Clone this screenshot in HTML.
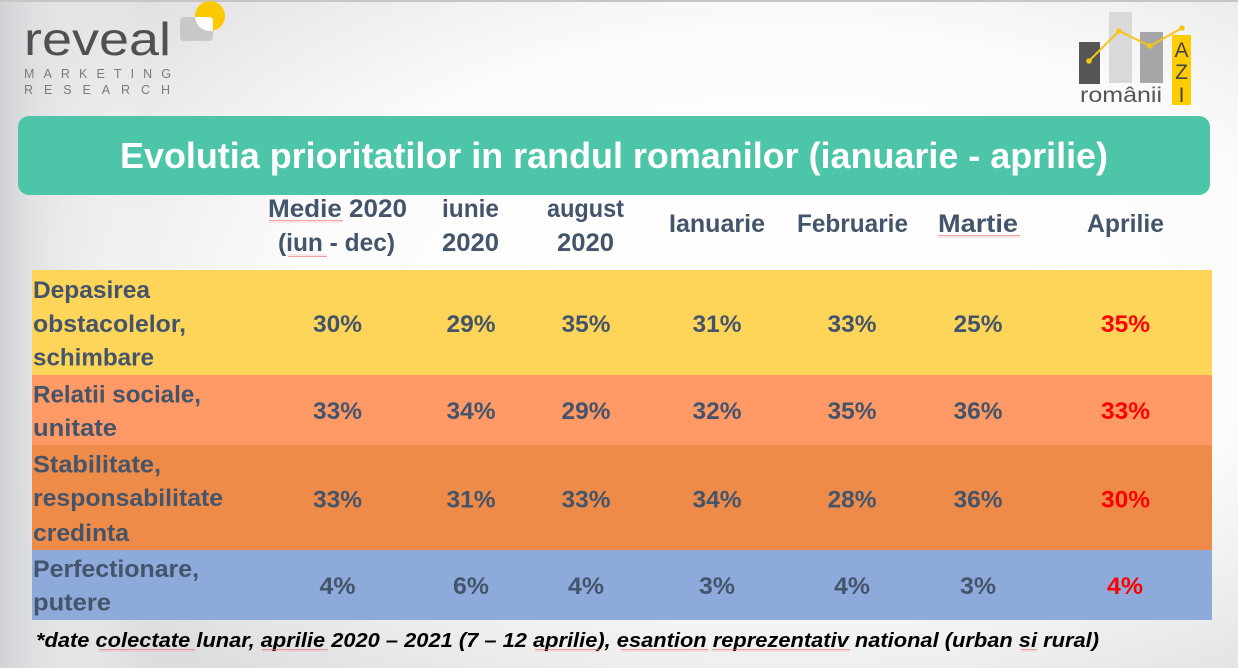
<!DOCTYPE html>
<html><head><meta charset="utf-8"><style>
html,body{margin:0;padding:0;width:1238px;height:668px;overflow:hidden;background:#fff}
svg{display:block}
</style></head><body>
<svg width="1238" height="668" viewBox="0 0 1238 668" xmlns="http://www.w3.org/2000/svg">
<defs>
<radialGradient id="bg" cx="0.64" cy="0.45" r="0.72">
<stop offset="0" stop-color="#ffffff"/>
<stop offset="0.55" stop-color="#fcfcfc"/>
<stop offset="0.8" stop-color="#ececed"/>
<stop offset="1" stop-color="#dcdddf"/>
</radialGradient>
<linearGradient id="lg" x1="0" y1="0" x2="1" y2="0">
<stop offset="0" stop-color="#cfd1d4" stop-opacity="1"/>
<stop offset="0.04" stop-color="#e6e7e9" stop-opacity="0.6"/>
<stop offset="0.12" stop-color="#ffffff" stop-opacity="0"/>
</linearGradient>
<pattern id="wave" width="4" height="3" patternUnits="userSpaceOnUse">
<path d="M0 2.2 L1 0.8 L2 2.2 L3 0.8 L4 2.2" fill="none" stroke="#e86a6a" stroke-width="0.55"/>
</pattern>
<clipPath id="rclip"><rect x="180" y="17" width="33" height="24" rx="4"/></clipPath>
</defs>
<rect width="1238" height="668" fill="url(#bg)"/>
<rect width="1238" height="668" fill="url(#lg)"/>
<rect x="0" y="0" width="1238" height="2" fill="#c6c6c6"/>

<!-- reveal logo -->
<text x="24" y="55" font-family="Liberation Sans, sans-serif" font-size="46" fill="#505050" textLength="147" lengthAdjust="spacingAndGlyphs">reveal</text>
<text x="24" y="78" font-family="Liberation Sans, sans-serif" font-size="12.5" fill="#7a7a7a" textLength="147" lengthAdjust="spacing">MARKETING</text>
<text x="24" y="94" font-family="Liberation Sans, sans-serif" font-size="12.5" fill="#7a7a7a" textLength="146" lengthAdjust="spacing">RESEARCH</text>
<rect x="180" y="17" width="33" height="24" rx="4" fill="#c8c8c8"/>
<circle cx="210" cy="16" r="15" fill="#fcc900"/>
<circle cx="210" cy="16" r="15" fill="#ffffff" clip-path="url(#rclip)"/>

<!-- romanii AZI logo -->
<rect x="1079" y="42" width="21" height="42" fill="#555555"/>
<rect x="1109" y="12" width="23" height="71" fill="#d9d9d9"/>
<rect x="1140" y="32" width="23" height="51" fill="#a6a6a6"/>
<rect x="1172" y="35" width="19" height="70" fill="#ffcc00"/>
<polyline points="1089,61 1119,31 1150,46 1182,28" fill="none" stroke="#f7c51a" stroke-width="2"/>
<circle cx="1089" cy="61" r="2.8" fill="#f7c51a"/>
<circle cx="1119" cy="31" r="2.8" fill="#f7c51a"/>
<circle cx="1150" cy="46" r="2.8" fill="#f7c51a"/>
<circle cx="1182" cy="28" r="2.8" fill="#f7c51a"/>
<text x="1181.5" y="57" font-family="Liberation Sans, sans-serif" font-size="21" fill="#444" text-anchor="middle">A</text>
<text x="1181.5" y="79" font-family="Liberation Sans, sans-serif" font-size="21" fill="#444" text-anchor="middle">Z</text>
<text x="1181.5" y="102" font-family="Liberation Sans, sans-serif" font-size="21" fill="#444" text-anchor="middle">I</text>
<text x="1080" y="102" font-family="Liberation Sans, sans-serif" font-size="21" fill="#555" textLength="82" lengthAdjust="spacingAndGlyphs">românii</text>

<!-- title bar -->
<rect x="18" y="116" width="1192" height="79" rx="11" fill="#4dc5a8"/>
<text x="120" y="168" font-family="Liberation Sans, sans-serif" font-weight="bold" font-size="36" fill="#ffffff" textLength="988" lengthAdjust="spacingAndGlyphs">Evolutia prioritatilor in randul romanilor (ianuarie - aprilie)</text>

<!-- header -->
<g font-family="Liberation Sans, sans-serif" font-weight="bold" font-size="25" fill="#44546a" text-anchor="middle">
<text x="337.5" y="217" textLength="139" lengthAdjust="spacingAndGlyphs">Medie 2020</text>
<text x="336.5" y="251" textLength="117" lengthAdjust="spacingAndGlyphs">(iun - dec)</text>
<text x="470.5" y="217" textLength="57" lengthAdjust="spacingAndGlyphs">iunie</text>
<text x="470.5" y="251" textLength="57" lengthAdjust="spacingAndGlyphs">2020</text>
<text x="585.5" y="217" textLength="77" lengthAdjust="spacingAndGlyphs">august</text>
<text x="585.5" y="251" textLength="57" lengthAdjust="spacingAndGlyphs">2020</text>
<text x="717" y="232" textLength="96" lengthAdjust="spacingAndGlyphs">Ianuarie</text>
<text x="852.5" y="232" textLength="111" lengthAdjust="spacingAndGlyphs">Februarie</text>
<text x="978" y="232" textLength="80" lengthAdjust="spacingAndGlyphs">Martie</text>
<text x="1125.5" y="232" textLength="77" lengthAdjust="spacingAndGlyphs">Aprilie</text>
</g>
<rect x="269" y="220" width="74" height="3" fill="url(#wave)"/>
<rect x="288" y="254" width="39" height="3" fill="url(#wave)"/>
<rect x="938" y="235" width="82" height="3" fill="url(#wave)"/>

<!-- rows -->
<rect x="32" y="270" width="1180" height="105" fill="#fed558"/>
<rect x="32" y="375" width="1180" height="70" fill="#ff9966"/>
<rect x="32" y="445" width="1180" height="105" fill="#ef8b48"/>
<rect x="32" y="550" width="1180" height="70" fill="#8eaadb"/>

<g font-family="Liberation Sans, sans-serif" font-weight="bold" font-size="24.5" fill="#44546a">
<text x="33" y="298" textLength="117" lengthAdjust="spacingAndGlyphs">Depasirea</text>
<text x="33" y="332" textLength="153" lengthAdjust="spacingAndGlyphs">obstacolelor,</text>
<text x="33" y="365.5" textLength="121" lengthAdjust="spacingAndGlyphs">schimbare</text>
<text x="33" y="402.5" textLength="168" lengthAdjust="spacingAndGlyphs">Relatii sociale,</text>
<text x="33" y="436" textLength="84" lengthAdjust="spacingAndGlyphs">unitate</text>
<text x="33" y="472.5" textLength="128" lengthAdjust="spacingAndGlyphs">Stabilitate,</text>
<text x="33" y="506" textLength="190" lengthAdjust="spacingAndGlyphs">responsabilitate</text>
<text x="33" y="541" textLength="96" lengthAdjust="spacingAndGlyphs">credinta</text>
<text x="33" y="577" textLength="166" lengthAdjust="spacingAndGlyphs">Perfectionare,</text>
<text x="33" y="610.5" textLength="78" lengthAdjust="spacingAndGlyphs">putere</text>
</g>

<g font-family="Liberation Sans, sans-serif" font-weight="bold" font-size="24.5" fill="#44546a" text-anchor="middle">
<text x="337.5" y="332" textLength="49" lengthAdjust="spacingAndGlyphs">30%</text>
<text x="471" y="332" textLength="49" lengthAdjust="spacingAndGlyphs">29%</text>
<text x="586" y="332" textLength="49" lengthAdjust="spacingAndGlyphs">35%</text>
<text x="717" y="332" textLength="49" lengthAdjust="spacingAndGlyphs">31%</text>
<text x="852" y="332" textLength="49" lengthAdjust="spacingAndGlyphs">33%</text>
<text x="978" y="332" textLength="49" lengthAdjust="spacingAndGlyphs">25%</text>

<text x="337.5" y="419" textLength="49" lengthAdjust="spacingAndGlyphs">33%</text>
<text x="471" y="419" textLength="49" lengthAdjust="spacingAndGlyphs">34%</text>
<text x="586" y="419" textLength="49" lengthAdjust="spacingAndGlyphs">29%</text>
<text x="717" y="419" textLength="49" lengthAdjust="spacingAndGlyphs">32%</text>
<text x="852" y="419" textLength="49" lengthAdjust="spacingAndGlyphs">35%</text>
<text x="978" y="419" textLength="49" lengthAdjust="spacingAndGlyphs">36%</text>

<text x="337.5" y="507.5" textLength="49" lengthAdjust="spacingAndGlyphs">33%</text>
<text x="471" y="507.5" textLength="49" lengthAdjust="spacingAndGlyphs">31%</text>
<text x="586" y="507.5" textLength="49" lengthAdjust="spacingAndGlyphs">33%</text>
<text x="717" y="507.5" textLength="49" lengthAdjust="spacingAndGlyphs">34%</text>
<text x="852" y="507.5" textLength="49" lengthAdjust="spacingAndGlyphs">28%</text>
<text x="978" y="507.5" textLength="49" lengthAdjust="spacingAndGlyphs">36%</text>

<text x="337.5" y="594" textLength="36" lengthAdjust="spacingAndGlyphs">4%</text>
<text x="471" y="594" textLength="36" lengthAdjust="spacingAndGlyphs">6%</text>
<text x="586" y="594" textLength="36" lengthAdjust="spacingAndGlyphs">4%</text>
<text x="717" y="594" textLength="36" lengthAdjust="spacingAndGlyphs">3%</text>
<text x="852" y="594" textLength="36" lengthAdjust="spacingAndGlyphs">4%</text>
<text x="978" y="594" textLength="36" lengthAdjust="spacingAndGlyphs">3%</text>
</g>
<g font-family="Liberation Sans, sans-serif" font-weight="bold" font-size="24.5" fill="#ff0000" text-anchor="middle">
<text x="1125.5" y="332" textLength="49" lengthAdjust="spacingAndGlyphs">35%</text>
<text x="1125.5" y="419" textLength="49" lengthAdjust="spacingAndGlyphs">33%</text>
<text x="1125.5" y="507.5" textLength="49" lengthAdjust="spacingAndGlyphs">30%</text>
<text x="1125" y="594" textLength="36" lengthAdjust="spacingAndGlyphs">4%</text>
</g>

<!-- footer -->
<text x="36" y="647" font-family="Liberation Sans, sans-serif" font-weight="bold" font-style="italic" font-size="20" fill="#000" textLength="1063" lengthAdjust="spacingAndGlyphs">*date colectate lunar, aprilie 2020 – 2021 (7 – 12 aprilie), esantion reprezentativ national (urban si rural)</text>
<rect x="99" y="649" width="96" height="3" fill="url(#wave)"/>
<rect x="262" y="649" width="66" height="3" fill="url(#wave)"/>
<rect x="535" y="649" width="65" height="3" fill="url(#wave)"/>
<rect x="621" y="649" width="87" height="3" fill="url(#wave)"/>
<rect x="712" y="649" width="138" height="3" fill="url(#wave)"/>
<rect x="1021" y="649" width="16" height="3" fill="url(#wave)"/>
</svg>
</body></html>
